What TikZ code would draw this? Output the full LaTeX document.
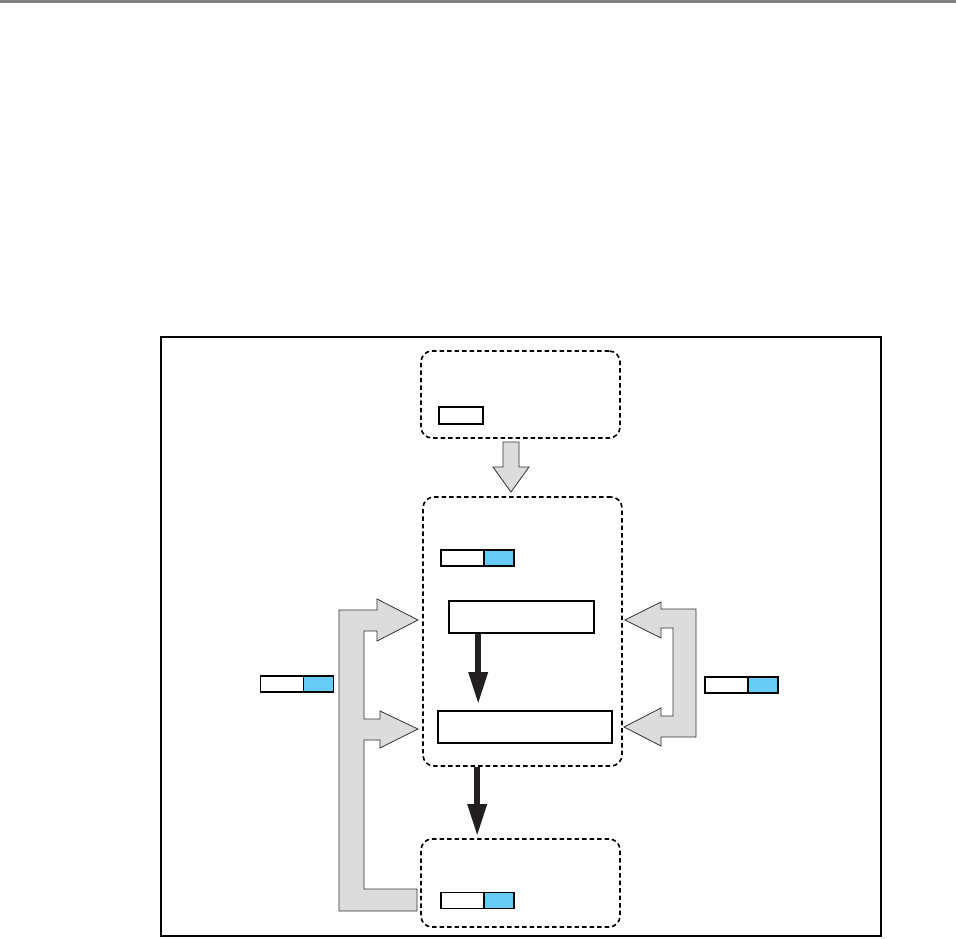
\documentclass[tikz,border=0pt]{standalone}
\usetikzlibrary{positioning,arrows.meta}
\definecolor{barblue}{HTML}{66CCF5}
\definecolor{arrowgray}{HTML}{DCDCDC}
\definecolor{inkblack}{HTML}{231F20}
\begin{document}
\begin{tikzpicture}[x=1pt, y=-1pt,
    stagebox/.style={draw, dash pattern=on 4.5pt off 3pt, line width=1.6pt, rounded corners=11pt, minimum width=199pt, inner sep=0pt},
    whitecell/.style={draw, line width=1.8pt, fill=white, minimum width=43pt, minimum height=16pt, inner sep=0pt},
    bluecell/.style={whitecell, fill=barblue, minimum width=30pt},
    stepblock/.style={draw, line width=1.6pt, minimum height=32pt, inner sep=0pt},
    flowarrow/.style={draw=inkblack, line width=6pt, -{Triangle[length=32pt, width=18pt]}},
    blockarrow/.style={fill=arrowgray, draw=black!80, line width=0.8pt}]
    \fill[white] (0,0) rectangle (956,938);
    \useasboundingbox (0,0) rectangle (956,938);
    \fill[gray] (0,0) rectangle (956,3);

    % Ramka zewnetrzna
    \draw[line width=2pt] (161,337) rectangle (881,936);

    % Bloki przerywane
    \node[stagebox, minimum height=87pt] (top) at (520.5,394.5) {};
    \node[stagebox, minimum height=269pt] (mid) at (522.5,631.5) {};
    \node[stagebox, minimum height=88pt] (bot) at (520.5,883) {};

    % Paski w blokach
    \node[whitecell, minimum width=44pt, minimum height=17pt] (topcell) at (461,415.5) {};
    \node[whitecell] (midw) at (462.5,558) {};
    \node[bluecell, right=-1.8pt of midw] (midb) {};
    \node[whitecell] (botw) at (462.5,900.5) {};
    \node[bluecell, right=-1.8pt of botw] (botb) {};
    \node[whitecell] (leftw) at (282,684) {};
    \node[bluecell, right=-1.8pt of leftw] (leftb) {};
    \node[whitecell] (rightw) at (726.5,685) {};
    \node[bluecell, right=-1.8pt of rightw] (rightb) {};

    % Prostokaty wewnatrz bloku srodkowego
    \node[stepblock, minimum width=145pt] (stepA) at (521.5,617) {};
    \node[stepblock, minimum width=174pt] (stepB) at (525,727) {};

    % Czarne strzalki
    \draw[flowarrow, shorten >=6pt] ([xshift=30pt]stepA.south west) -- ([xshift=41pt]stepB.north west);
    \draw[flowarrow, shorten >=2pt] ([xshift=55pt]mid.south west) -- ([xshift=57pt]bot.north west);

    % Szara strzalka w dol
    \draw[blockarrow] (503,442) -- (519,442) -- (519,467) -- (529,467) -- (511,492)
        -- (493,467) -- (503,467) -- cycle;

    % Szara petla z lewej
    \draw[blockarrow] (339,610) -- (377,610) -- (377,599) -- (418,620) -- (377,641)
        -- (377,631) -- (364,631) -- (364,719) -- (380,719) -- (380,711) -- (418,729)
        -- (380,748) -- (380,740) -- (364,740) -- (364,889) -- (417,889) -- (417,911)
        -- (339,911) -- cycle;

    % Szara petla z prawej
    \draw[blockarrow] (696,609) -- (661,609) -- (661,602) -- (625,620) -- (661,638)
        -- (661,628) -- (673,628) -- (673,716) -- (661,716) -- (661,708) -- (624,727)
        -- (661,746) -- (661,737) -- (696,737) -- cycle;
\end{tikzpicture}
\end{document}
